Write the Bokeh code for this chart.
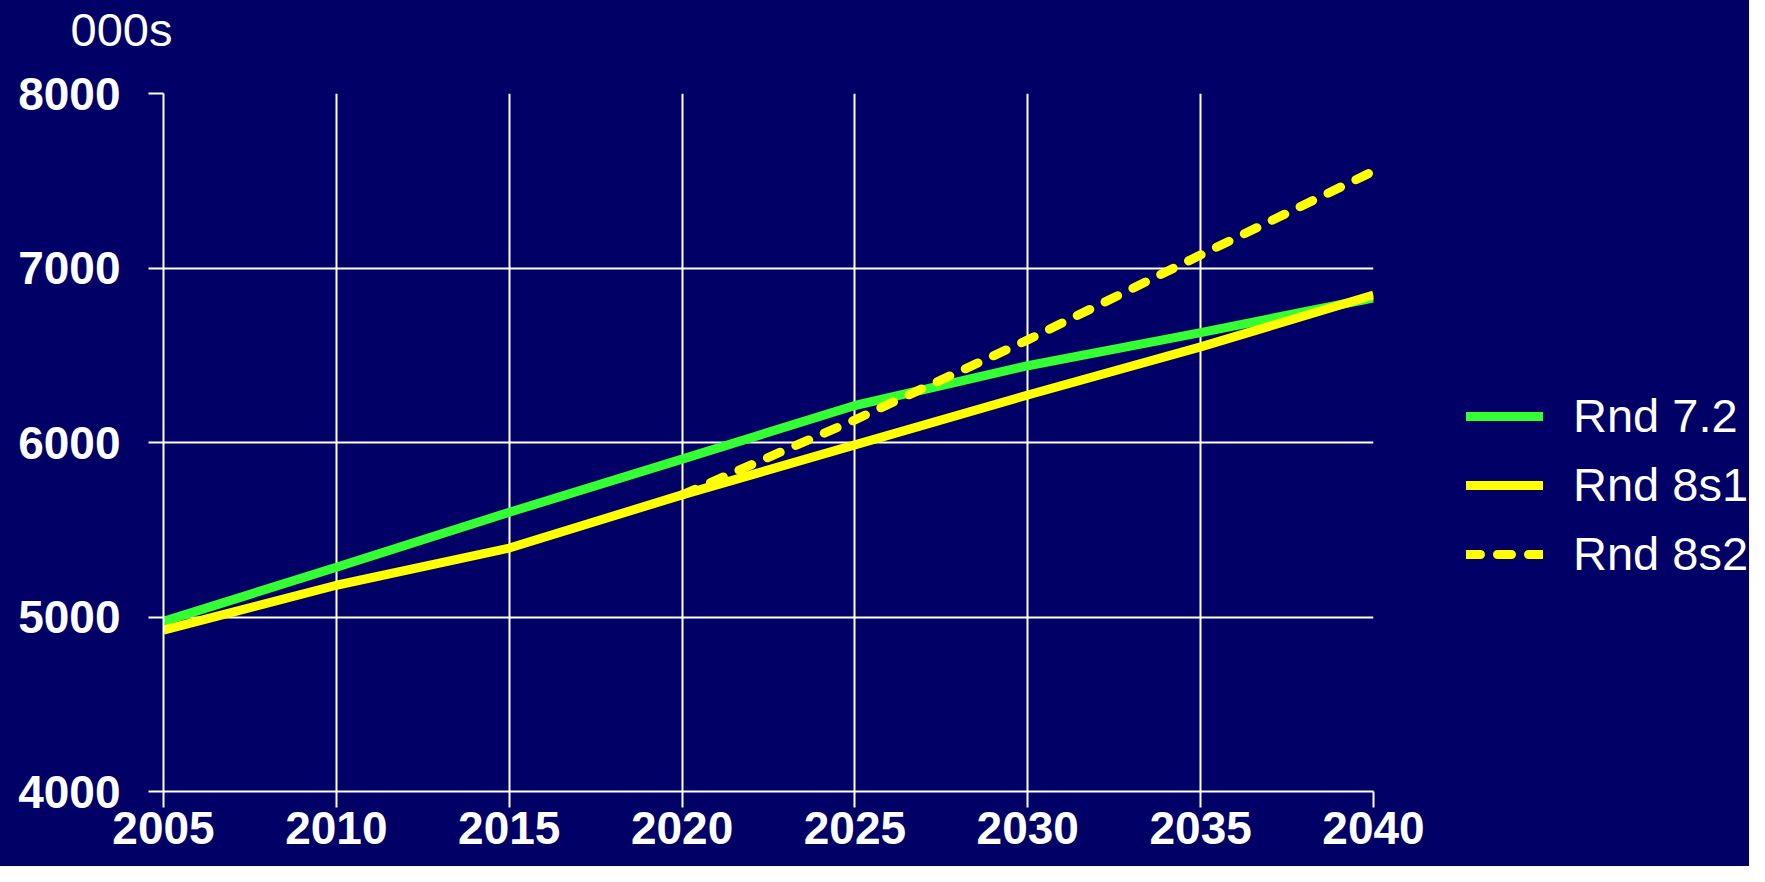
from bokeh.plotting import figure
from bokeh.layouts import row, column
from bokeh.models import Range1d, FixedTicker, Legend, LegendItem, LinearAxis
from bokeh.embed import file_html
from bokeh.resources import INLINE

# ---- data ----
years = [2005, 2010, 2015, 2020, 2025, 2030, 2035, 2040]
rnd_72 = [4975, 5285, 5600, 5905, 6212, 6440, 6630, 6828]
rnd_8s1 = [4925, 5182, 5395, 5700, 5986, 6272, 6548, 6845]
years_8s2 = [2020, 2025, 2030, 2035, 2040]
rnd_8s2 = [5700, 6130, 6588, 7075, 7555]
x_ticks = [2005, 2010, 2015, 2020, 2025, 2030, 2035, 2040]
y_ticks = [4000, 5000, 6000, 7000, 8000]
series_names = ["Rnd 7.2", "Rnd 8s1", "Rnd 8s2"]
unit_label = "000s"

BG = "#000066"
GREEN = "#33FF33"
YELLOW = "#FFFF00"
FONT = "Liberation Sans"
LW = 9
DASH = "14 17"

TOTAL_W, TOTAL_H = 1749, 866
STRIP_H = 57
MAIN_W = 1440
BODY_H = TOTAL_H - STRIP_H

# ---- top strip with the unit label ----
s = figure(width=TOTAL_W, height=STRIP_H, output_backend="svg", toolbar_location=None,
           x_range=Range1d(2005, 2040), y_range=Range1d(0, 1),
           x_axis_type=None, y_axis_type=None,
           min_border_left=172, min_border_right=TOTAL_W - 1373,
           min_border_top=0, min_border_bottom=0)
s.background_fill_color = BG
s.border_fill_color = BG
s.outline_line_color = None
s.grid.visible = False
ua = LinearAxis(ticker=FixedTicker(ticks=[]), axis_label=unit_label,
                axis_label_orientation="horizontal", axis_label_standoff=0,
                axis_label_text_color="white", axis_label_text_font=FONT,
                axis_label_text_font_size="47px", axis_label_text_font_style="normal",
                axis_line_color=None, major_tick_line_color=None,
                minor_tick_line_color=None, major_label_text_font_size="0px")
s.add_layout(ua, "left")

# ---- main chart ----
p = figure(width=MAIN_W, height=BODY_H, output_backend="svg", toolbar_location=None,
           x_range=Range1d(2005, 2040), y_range=Range1d(4000, 8000),
           min_border_left=163, min_border_right=MAIN_W - 1373,
           min_border_top=93 - STRIP_H, min_border_bottom=75)
p.background_fill_color = BG
p.border_fill_color = BG
p.outline_line_color = None

for ax in (p.xaxis[0], p.yaxis[0]):
    ax.axis_line_color = "white"
    ax.axis_line_width = 2
    ax.major_tick_line_color = "white"
    ax.major_tick_line_width = 2
    ax.major_tick_in = 0
    ax.minor_tick_line_color = None
    ax.major_label_text_color = "white"
    ax.major_label_text_font = FONT
    ax.major_label_text_font_style = "bold"
    ax.major_label_text_font_size = "46px"

p.xaxis[0].ticker = FixedTicker(ticks=x_ticks)
p.yaxis[0].ticker = FixedTicker(ticks=y_ticks)
p.xaxis[0].major_tick_out = 16
p.yaxis[0].major_tick_out = 15
p.xaxis[0].major_label_standoff = 4
p.yaxis[0].major_label_standoff = 28

p.xgrid[0].ticker = FixedTicker(ticks=x_ticks)
p.ygrid[0].ticker = FixedTicker(ticks=y_ticks)
for g in (p.xgrid[0], p.ygrid[0]):
    g.grid_line_color = "white"
    g.grid_line_width = 2

p.line(years, rnd_72, line_color=GREEN, line_width=LW)
p.line(years, rnd_8s1, line_color=YELLOW, line_width=LW)
p.line(years_8s2, rnd_8s2, line_color=YELLOW, line_width=LW, line_dash=DASH,
       line_cap="round")

# ---- legend panel ----
q = figure(width=TOTAL_W - MAIN_W, height=BODY_H, output_backend="svg",
           toolbar_location=None, x_range=Range1d(0, 1), y_range=Range1d(0, 1),
           x_axis_type=None, y_axis_type=None,
           min_border_left=0, min_border_right=0,
           min_border_top=93 - STRIP_H, min_border_bottom=75)
q.background_fill_color = BG
q.border_fill_color = BG
q.outline_line_color = None
q.grid.visible = False

# legend swatches (the series lie outside this panel's ranges, so only the legend shows)
l1 = q.line(years, rnd_72, line_color=GREEN, line_width=LW, line_cap="round")
l2 = q.line(years, rnd_8s1, line_color=YELLOW, line_width=LW, line_cap="round")
l3 = q.line(years_8s2, rnd_8s2, line_color=YELLOW, line_width=LW, line_dash=DASH,
            line_cap="round")

legend = Legend(items=[LegendItem(label=series_names[0], renderers=[l1]),
                       LegendItem(label=series_names[1], renderers=[l2]),
                       LegendItem(label=series_names[2], renderers=[l3])],
                location=(26, 210))
legend.background_fill_alpha = 0
legend.border_line_color = None
legend.padding = 0
legend.margin = 0
legend.spacing = 14
legend.glyph_width = 77
legend.glyph_height = 40
legend.label_height = 40
legend.label_standoff = 30
legend.label_text_color = "white"
legend.label_text_font = FONT
legend.label_text_font_size = "47px"
q.add_layout(legend, "center")

body = row(p, q, spacing=0, styles={"background-color": BG})
layout = column(s, body, spacing=0, styles={"background-color": BG})

open("out.html", "w").write(file_html(layout, INLINE))
